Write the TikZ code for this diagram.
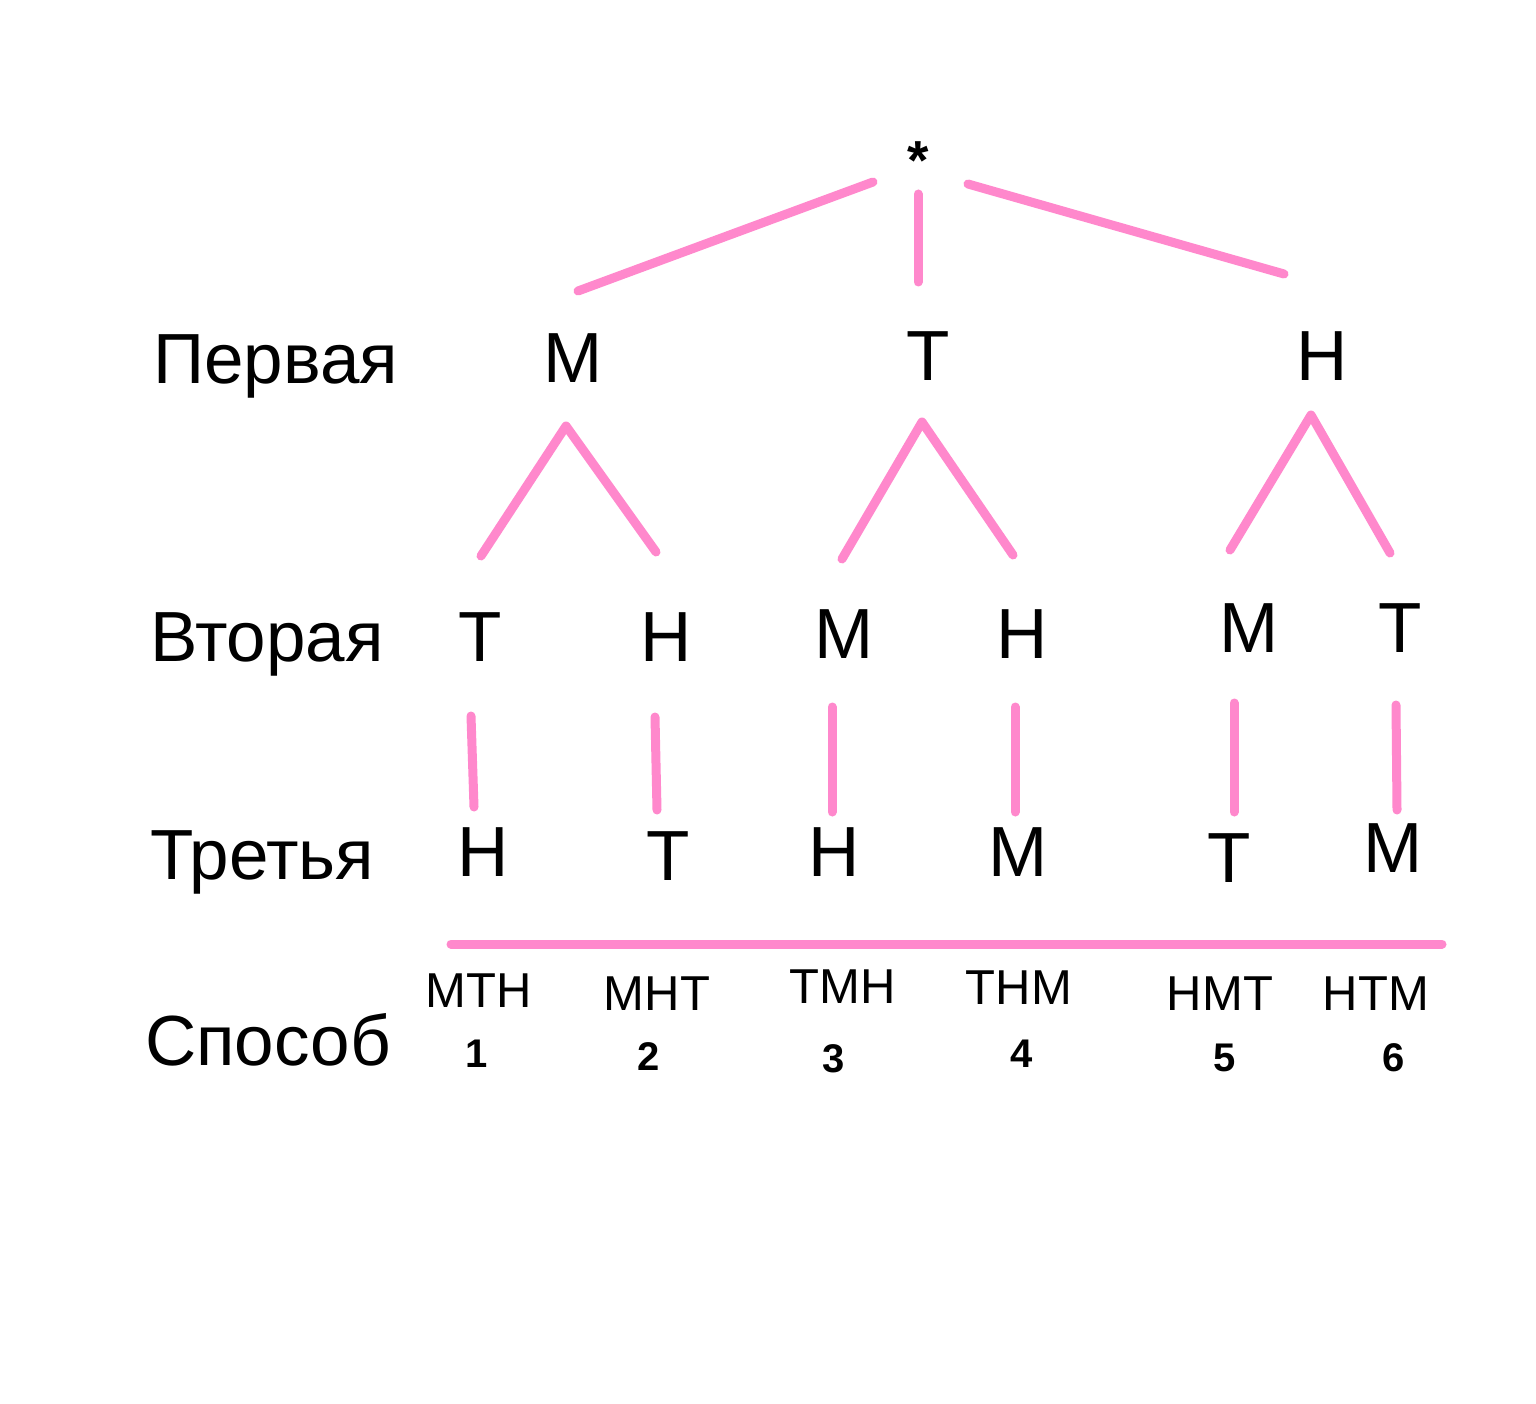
\documentclass[tikz,border=0pt]{standalone}
\usepackage{fontspec}
\setmainfont{Liberation Sans}
\definecolor{pinkline}{RGB}{255,136,204}
\begin{document}
\begin{tikzpicture}[x=1pt,y=-1pt,
  conn/.style={draw=pinkline,line width=9pt,line cap=round,line join=round},
  rowlbl/.style={anchor=base west,inner sep=0pt,font=\fontsize{71}{80}\selectfont},
  lvl/.style={anchor=base,inner sep=0pt,font=\fontsize{71}{80}\selectfont},
  combo/.style={anchor=base,inner sep=0pt,font=\fontsize{49}{56}\selectfont},
  num/.style={anchor=base,inner sep=0pt,font=\bfseries\fontsize{40}{48}\selectfont}]
\useasboundingbox[fill=white] (0,0) rectangle (1536,1404);
% root
\node[anchor=base,inner sep=0pt,font=\bfseries\fontsize{55}{60}\selectfont] (root) at (918,180) {*};
% row labels
\node[rowlbl] (r1) at (153,383) {Первая};
\node[rowlbl] (r2) at (150,661) {Вторая};
\node[rowlbl] (r3) at (150,879) {Третья};
\node[rowlbl] (r4) at (145,1065) {Способ};
% level 1
\node[lvl] (m1) at (573,382) {М};
\node[lvl] (t1) at (928,380) {Т};
\node[lvl] (h1) at (1322,380) {Н};
% level 2
\node[lvl] (a2) at (480,661) {Т};
\node[lvl] (b2) at (666,661) {Н};
\node[lvl] (c2) at (844,658) {М};
\node[lvl] (d2) at (1022,658) {Н};
\node[lvl] (e2) at (1249,652) {М};
\node[lvl] (f2) at (1400,652) {Т};
% level 3
\node[lvl] (a3) at (483,876) {Н};
\node[lvl] (b3) at (668,880) {Т};
\node[lvl] (c3) at (834,876) {Н};
\node[lvl] (d3) at (1018,876) {М};
\node[lvl] (e3) at (1229,882) {Т};
\node[lvl] (f3) at (1393,872) {М};
% combos
\node[combo] (s1) at (479,1007) {МТН};
\node[combo] (s2) at (657,1010) {МНТ};
\node[combo] (s3) at (843,1003) {ТМН};
\node[combo] (s4) at (1019,1004) {ТНМ};
\node[combo] (s5) at (1220,1010) {НМТ};
\node[combo] (s6) at (1376,1010) {НТМ};
% numbers
\node[num] (n1) at (477,1067) {1};
\node[num] (n2) at (649,1070) {2};
\node[num] (n3) at (834,1072) {3};
\node[num] (n4) at (1022,1067) {4};
\node[num] (n5) at (1225,1071) {5};
\node[num] (n6) at (1394,1071) {6};
% connector end points
\coordinate (rL1) at (873,182); \coordinate (rL2) at (578,291);
\coordinate (rM1) at (918,194); \coordinate (rM2) at (918,282);
\coordinate (rR1) at (968,184); \coordinate (rR2) at (1284,274);
\coordinate (mA) at (481,556); \coordinate (mT) at (566,426); \coordinate (mB) at (656,552);
\coordinate (tA) at (842,559); \coordinate (tT) at (922,422); \coordinate (tB) at (1013,555);
\coordinate (hA) at (1230,550); \coordinate (hT) at (1311,415); \coordinate (hB) at (1390,553);
\coordinate (v1a) at (471,716); \coordinate (v1b) at (474,807);
\coordinate (v2a) at (655,717); \coordinate (v2b) at (657,810);
\coordinate (v3a) at (832,707); \coordinate (v3b) at (832,812);
\coordinate (v4a) at (1015,707); \coordinate (v4b) at (1015,812);
\coordinate (v5a) at (1234,703); \coordinate (v5b) at (1234,812);
\coordinate (v6a) at (1396,705); \coordinate (v6b) at (1397,810);
\coordinate (hl1) at (451,944); \coordinate (hl2) at (1442,944);
% connectors
\draw[conn] (rL1) -- (rL2);
\draw[conn] (rM1) -- (rM2);
\draw[conn] (rR1) -- (rR2);
\draw[conn] (mA) -- (mT) -- (mB);
\draw[conn] (tA) -- (tT) -- (tB);
\draw[conn] (hA) -- (hT) -- (hB);
\draw[conn] (v1a) -- (v1b);
\draw[conn] (v2a) -- (v2b);
\draw[conn] (v3a) -- (v3b);
\draw[conn] (v4a) -- (v4b);
\draw[conn] (v5a) -- (v5b);
\draw[conn] (v6a) -- (v6b);
\draw[conn] (hl1) -- (hl2);
\end{tikzpicture}
\end{document}
